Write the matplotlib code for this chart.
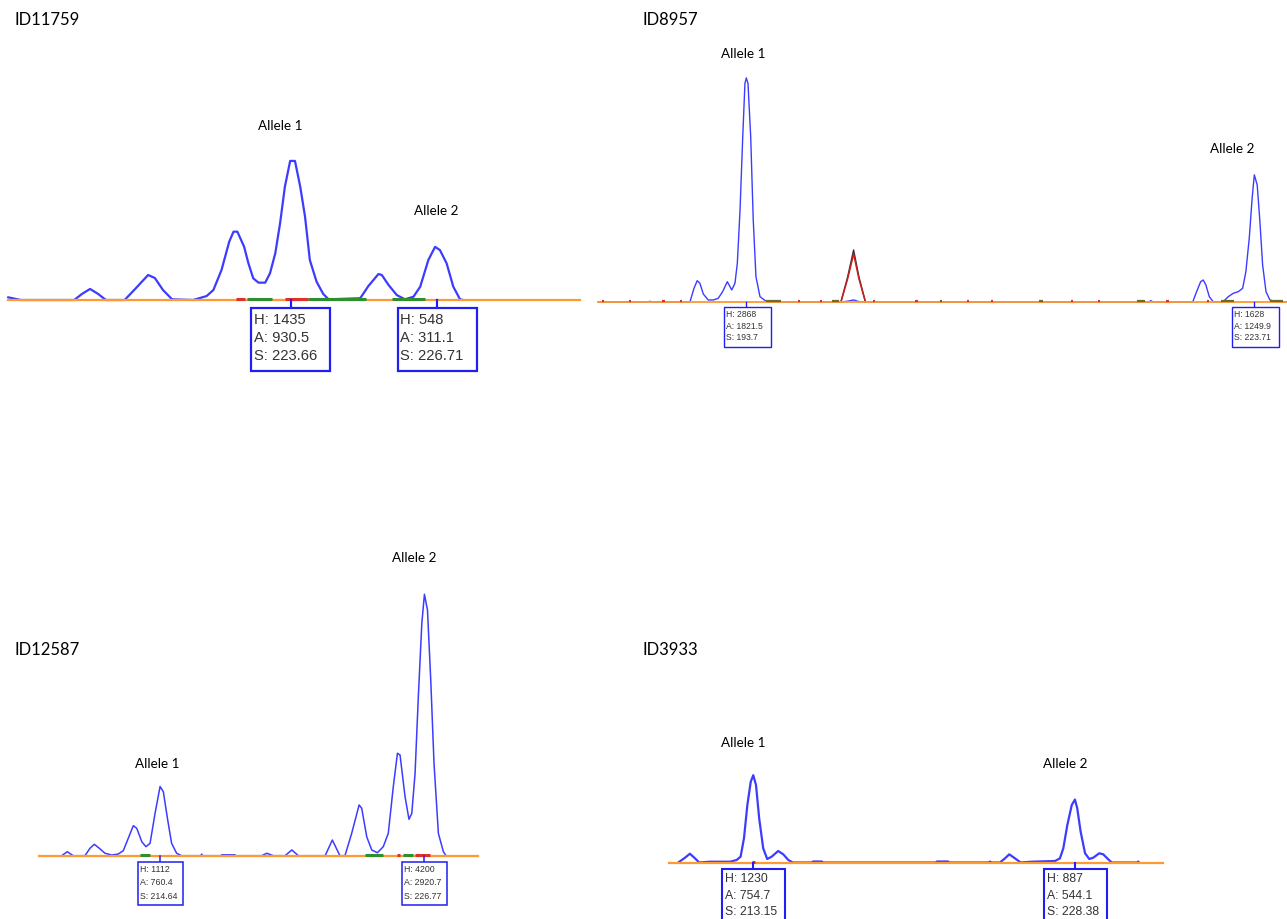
import matplotlib
matplotlib.use('Agg')
import matplotlib.pyplot as plt
import matplotlib.transforms as mtransforms
from matplotlib.patches import Rectangle
from matplotlib.lines import Line2D

W, H = 1287, 919
BLUE = '#3c3cff'
ORANGE = '#ff9933'
BOXBLUE = '#1f1ff0'
RED = '#e0302a'
GREEN = '#2f8f2f'
OLIVE = '#6b6b2a'
TXT = '#333333'

# ---- ID11759 ----  (size in bp, height in RFU)
p1_size = [217.77, 218.04, 219.15, 219.31, 219.48, 219.65, 219.81, 220.20, 220.42, 220.69,
           220.83, 221.00, 221.19, 221.63, 221.91, 222.05, 222.22, 222.38, 222.47, 222.55,
           222.69, 222.78, 222.88, 222.99, 223.13, 223.23, 223.34, 223.44, 223.54, 223.65,
           223.75, 223.86, 223.96, 224.06, 224.20, 224.34, 224.45, 225.11, 225.28, 225.49,
           225.56, 225.70, 225.87, 226.04, 226.22, 226.36, 226.53, 226.67, 226.77, 226.91,
           227.05, 227.19, 227.26]
p1_rfu = [28, 0, 0, 62, 114, 62, 0, 0, 114, 258,
          227, 103, 7, 0, 41, 103, 310, 602, 705, 705,
          550, 379, 224, 179, 179, 276, 482, 792, 1169, 1435,
          1435, 1169, 860, 413, 189, 62, 7, 18, 144, 268,
          258, 155, 52, 7, 34, 137, 413, 548, 516, 379,
          137, 7, 0]
p1_red = [(222.52, 222.71), (223.54, 224.02)]
p1_green = [(222.75, 223.27), (224.02, 225.23), (225.77, 226.46)]
p1_calls = [(1435, 930.5, 223.66), (548, 311.1, 226.71)]

# ---- ID8957 ----
p2_size = [184.96, 187.90, 188.03, 188.16, 190.39, 190.63, 190.82, 190.98, 191.18, 191.47,
           191.77, 192.06, 192.32, 192.60, 192.86, 193.05, 193.19, 193.35, 193.51, 193.64,
           193.72, 193.82, 193.98, 194.13, 194.29, 194.53, 194.92, 195.22, 199.31, 199.71,
           200.06, 200.37, 200.76, 217.50, 217.62, 217.75, 220.09, 220.32, 220.56, 220.71,
           220.87, 221.07, 221.30, 221.89, 222.19, 222.48, 222.78, 223.04, 223.23, 223.43,
           223.60, 223.73, 223.90, 224.06, 224.22, 224.42, 224.65, 224.95, 225.66]
p2_rfu = [0, 0, 9, 0, 0, 175, 273, 239, 102, 26,
          26, 47, 132, 260, 154, 239, 495, 1178, 2116, 2799,
          2868, 2799, 2116, 1050, 324, 68, 4, 0, 0, 10,
          26, 5, 0, 0, 17, 0, 0, 132, 260, 282,
          218, 68, 4, 4, 68, 111, 132, 175, 388, 815,
          1327, 1628, 1498, 1028, 474, 132, 26, 4, 0]
p2_red_size = [199.31, 199.71, 200.06, 200.37, 200.76]
p2_red_rfu = [0, 300, 614, 300, 0]
p2_black_rfu = [0, 324, 666, 324, 0]
p2_noise = [(185.20, 185.34, RED), (186.78, 186.92, RED), (188.75, 188.89, RED),
            (189.80, 189.94, RED), (194.86, 195.77, OLIVE), (196.75, 196.89, RED),
            (198.07, 198.21, RED), (198.79, 199.19, OLIVE), (201.21, 201.35, RED),
            (203.71, 203.85, RED), (205.15, 205.29, OLIVE), (206.73, 206.87, RED),
            (208.17, 208.31, RED), (211.00, 211.26, OLIVE), (212.90, 213.04, RED),
            (214.47, 214.61, RED), (216.78, 217.30, OLIVE), (218.54, 218.68, RED),
            (220.91, 221.05, RED), (221.76, 222.55, OLIVE), (224.65, 225.44, OLIVE)]
p2_calls = [(2868, 1821.5, 193.7), (1628, 1249.9, 223.71)]

# ---- ID12587 ----
p3_size = [210.11, 210.37, 210.64, 211.18, 211.41, 211.61, 211.84, 212.10, 212.41, 212.71,
           212.94, 213.17, 213.40, 213.56, 213.79, 213.98, 214.17, 214.40, 214.63, 214.78,
           214.98, 215.16, 215.39, 215.62, 216.50, 216.54, 216.58, 217.44, 217.46, 218.07,
           218.10, 219.30, 219.53, 219.83, 220.37, 220.68, 220.98, 222.21, 222.54, 222.89,
           223.12, 223.43, 223.77, 223.89, 224.12, 224.35, 224.61, 224.88, 225.11, 225.34,
           225.53, 225.65, 225.88, 226.06, 226.19, 226.34, 226.49, 226.65, 226.77, 226.91,
           227.06, 227.21, 227.41, 227.64, 227.76]
p3_rfu = [0, 64, 0, 0, 119, 183, 119, 39, 11, 27,
          80, 280, 482, 440, 225, 145, 199, 681, 1112, 1028,
          574, 199, 39, 0, 0, 25, 0, 0, 14, 14,
          0, 0, 39, 0, 0, 92, 0, 0, 252, 0,
          0, 360, 815, 762, 305, 92, 48, 145, 360, 1109,
          1646, 1618, 948, 585, 681, 1324, 2555, 3735, 4200, 3948,
          2823, 1485, 360, 64, 0]
p3_red = [(225.51, 225.65), (226.34, 227.03)]
p3_green = [(213.71, 214.17), (224.04, 224.87), (225.79, 226.26)]
p3_calls = [(1112, 760.4, 214.64), (4200, 2920.7, 226.77)]

# ---- ID3933 ----
p4_size = [209.60, 209.92, 210.15, 210.39, 210.59, 211.10, 212.05, 212.36, 212.55, 212.71,
           212.87, 213.03, 213.15, 213.28, 213.43, 213.62, 213.81, 214.02, 214.33, 214.57,
           214.81, 215.02, 215.96, 215.98, 216.40, 216.42, 221.83, 221.85, 222.37, 222.39,
           224.34, 224.36, 224.38, 224.83, 225.07, 225.27, 225.54, 225.81, 226.33, 227.44,
           227.67, 227.83, 228.02, 228.23, 228.38, 228.49, 228.65, 228.86, 229.06, 229.25,
           229.53, 229.72, 229.91, 230.12, 231.36, 231.38, 231.40]
p4_rfu = [0, 68, 124, 59, 0, 11, 11, 35, 82, 341,
          810, 1138, 1230, 1091, 622, 200, 49, 82, 162, 115,
          35, 0, 0, 14, 14, 0, 0, 14, 14, 0,
          0, 14, 0, 0, 59, 115, 59, 0, 11, 21,
          59, 200, 528, 810, 887, 763, 434, 130, 49, 68,
          130, 115, 59, 0, 0, 14, 0]
p4_red = [(213.07, 213.25)]
p4_calls = [(1230, 754.7, 213.15), (887, 544.1, 228.38)]

fig = plt.figure(figsize=(W / 100, H / 100), dpi=100)
fig.patch.set_facecolor('white')


def panel(left, right, base, top, xlim, ymax):
    ax = fig.add_axes([left / W, 1 - base / H, (right - left) / W, (base - top) / H])
    ax.set_xlim(*xlim)
    ax.set_ylim(0, ymax)
    ax.axis('off')
    return ax


def trace(ax, sizes, rfus, lw, color=BLUE, z=2):
    ax.plot(sizes, rfus, color=color, lw=lw, zorder=z, clip_on=False,
            solid_joinstyle='round', solid_capstyle='round')


def baseline(ax, lw):
    ax.axhline(0, color=ORANGE, lw=lw, zorder=3, clip_on=False)


def dashes(ax, segs, color, y, lw):
    for a, b in segs:
        ax.plot([a, b], [y, y], color=color, lw=lw, zorder=4, clip_on=False,
                solid_capstyle='butt')


def call_box(ax, call, fs, gap, x0, w, h, lsp, lw, pad=3, top=4):
    hh, area, size = call
    tr = mtransforms.ScaledTranslation(size, 0, ax.transData)
    ax.add_line(Line2D([0, 0], [0, -gap], transform=tr, color=BOXBLUE, lw=lw,
                       clip_on=False, zorder=5))
    ax.add_patch(Rectangle((x0, -gap - h), w, h, transform=tr, fc='white', ec=BOXBLUE,
                           lw=lw, clip_on=False, zorder=5))
    ax.text(x0 + pad, -gap - top, f'H: {hh}\nA: {area}\nS: {size}', transform=tr,
            ha='left', va='top', fontsize=fs, family='Liberation Sans', color=TXT,
            linespacing=lsp, zorder=6, clip_on=False)


def label(ax, x, y, s):
    ax.text(x, y, s, ha='center', va='center', fontsize=9.7, family='Lato', color='black')


# panel ID11759
ax1 = panel(8, 580, 300, 30, (217.77, 229.69), 2786)
trace(ax1, p1_size, p1_rfu, 1.6)
baseline(ax1, 1.6)
dashes(ax1, p1_red, RED, 12, 2.2)
dashes(ax1, p1_green, GREEN, 12, 2.2)
for c in p1_calls:
    call_box(ax1, c, 10.6, 8, -39.5, 79, 63, 1.36, 1.6, top=5)
label(ax1, 223.44, 1796, 'Allele 1')
label(ax1, 226.69, 918, 'Allele 2')

# panel ID8957
ax2 = panel(598, 1287, 302, 30, (184.96, 225.66), 3482)
trace(ax2, p2_size, p2_rfu, 1.0)
trace(ax2, p2_red_size, p2_black_rfu, 1.0, color='#303030', z=2)
trace(ax2, p2_red_size, p2_red_rfu, 1.1, color='#c82020', z=2)
baseline(ax2, 1.3)
for a, b, col in p2_noise:
    dashes(ax2, [(a, b)], col, 8, 1.6)
for c in p2_calls:
    call_box(ax2, c, 6.2, 5, -22, 47, 40, 1.38, 1.0, pad=2, top=3)
label(ax2, 193.52, 3174, 'Allele 1')
label(ax2, 222.41, 1958, 'Allele 2')

# panel ID12587
ax3 = panel(39, 478, 855.7, 540, (209.07, 229.23), 5073)
trace(ax3, p3_size, p3_rfu, 1.1)
baseline(ax3, 1.6)
dashes(ax3, p3_red, RED, 15, 2.2)
dashes(ax3, p3_green, GREEN, 15, 2.2)
for c in p3_calls:
    call_box(ax3, c, 6.3, 6, -22, 45, 43, 1.68, 1.1, pad=2, top=3)
label(ax3, 214.49, 1474, 'Allele 1')
label(ax3, 226.29, 4784, 'Allele 2')

# panel ID3933
ax4 = panel(669, 1163, 862.5, 560, (209.16, 232.55), 4262)
trace(ax4, p4_size, p4_rfu, 1.6)
baseline(ax4, 1.6)
dashes(ax4, p4_red, RED, 12, 2.2)
for c in p4_calls:
    call_box(ax4, c, 8.8, 6, -31, 63, 60, 1.45, 1.5, top=5)
label(ax4, 212.66, 1685, 'Allele 1')
label(ax4, 227.91, 1390, 'Allele 2')

# sample IDs
for x, y, s in [(15, 20, 'ID11759'), (642, 20, 'ID8957'), (15, 650, 'ID12587'), (642, 650, 'ID3933')]:
    fig.text(x / W, 1 - y / H, s, ha='left', va='center', fontsize=12, family='Lato', color='black')

fig.savefig('out.png', dpi=100, facecolor='white')
